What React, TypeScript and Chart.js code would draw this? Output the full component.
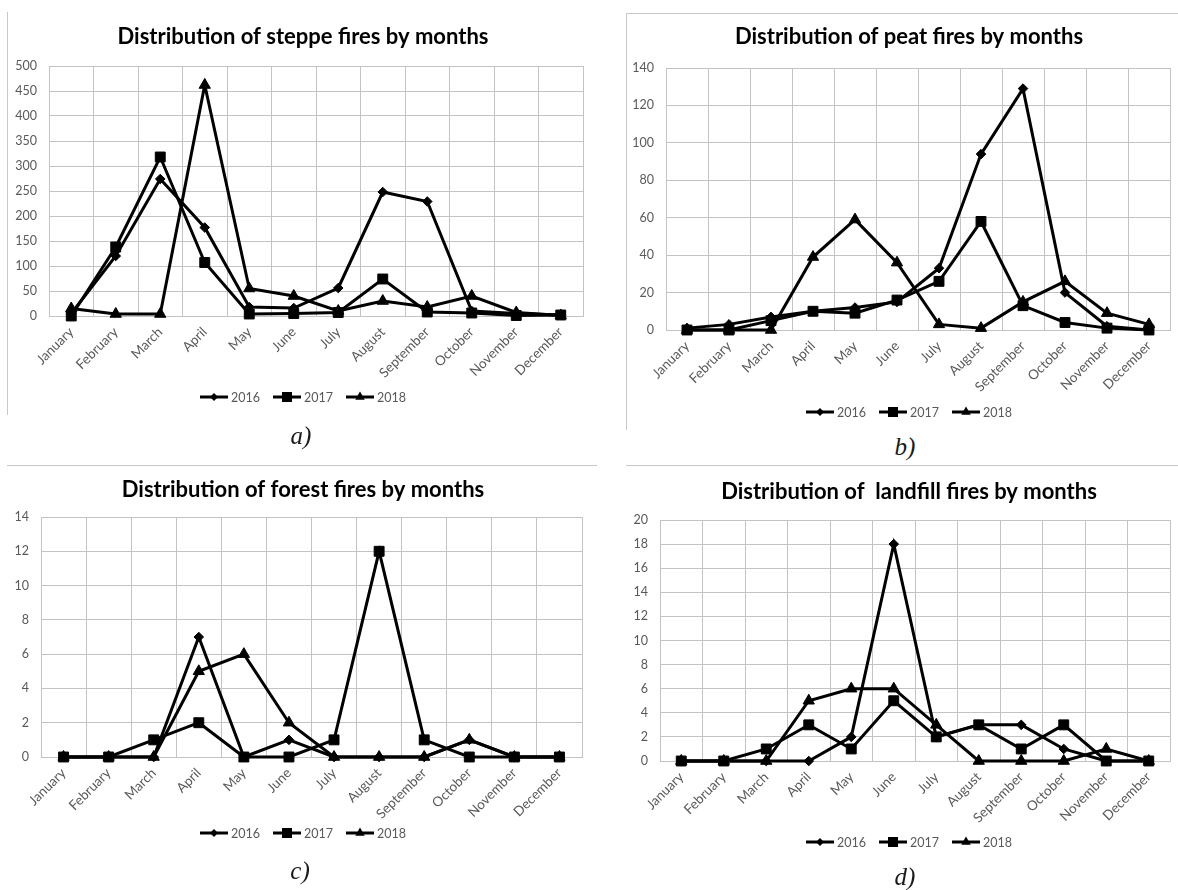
import React, { useEffect, useRef } from "react";
import { Chart, registerables } from "chart.js";

Chart.register(...registerables);

const MONTHS = ["January", "February", "March", "April", "May", "June", "July", "August", "September", "October", "November", "December"];
const YEARS = ["2016", "2017", "2018"];

const steppe2016 = [5, 120, 274, 177, 18, 16, 56, 248, 229, 10, 5, 2];
const steppe2017 = [0, 138, 318, 107, 4, 5, 7, 74, 8, 6, 1, 2];
const steppe2018 = [15, 4, 4, 462, 55, 40, 10, 30, 18, 40, 7, 1];

const peat2016 = [1, 3, 7, 10, 12, 15, 33, 94, 129, 20, 2, 0];
const peat2017 = [0, 0, 5, 10, 9, 16, 26, 58, 13, 4, 1, 0];
const peat2018 = [0, 0, 0, 39, 59, 36, 3, 1, 15, 26, 9, 3];

const forest2016 = [0, 0, 0, 7, 0, 1, 0, 0, 0, 1, 0, 0];
const forest2017 = [0, 0, 1, 2, 0, 0, 1, 12, 1, 0, 0, 0];
const forest2018 = [0, 0, 0, 5, 6, 2, 0, 0, 0, 1, 0, 0];

const landfill2016 = [0, 0, 0, 0, 2, 18, 2, 3, 3, 1, 0, 0];
const landfill2017 = [0, 0, 1, 3, 1, 5, 2, 3, 1, 3, 0, 0];
const landfill2018 = [0, 0, 0, 5, 6, 6, 3, 0, 0, 0, 1, 0];

const TITLES = [
  "Distribution of steppe fires by months",
  "Distribution of peat fires by months",
  "Distribution of forest fires by months",
  "Distribution of  landfill fires by months",
];
const PANEL_LABELS = ["a)", "b)", "c)", "d)"];

const POINT_STYLES = ["rectRot", "rect", "triangle"];
const POINT_RADII = [4.8, 7, 6.5];
const GRID = "#c3c3c3";
const TICK = "#595959";
const FONT = "Lato";

type Box = { left: number; top: number; width: number; height: number };
type Plot = { left: number; top: number; right: number; bottom: number };
type Panel = {
  title: string;
  label: string;
  series: number[][];
  yMax: number;
  step: number;
  canvas: Box;
  plot: Plot;
  titleY: number;
  legendY: number;
  cx: number;
  labelPos: { x: number; y: number };
};

const PANELS: Panel[] = [
  {
    title: TITLES[0], label: PANEL_LABELS[0], series: [steppe2016, steppe2017, steppe2018], yMax: 500, step: 50,
    canvas: { left: 0, top: 0, width: 600, height: 430 },
    plot: { left: 49, top: 66, right: 583, bottom: 316 },
    titleY: 37, legendY: 397, cx: 303, labelPos: { x: 301, y: 436 },
  },
  {
    title: TITLES[1], label: PANEL_LABELS[1], series: [peat2016, peat2017, peat2018], yMax: 140, step: 20,
    canvas: { left: 600, top: 0, width: 578, height: 430 },
    plot: { left: 666, top: 68, right: 1176, bottom: 330 },
    titleY: 37, legendY: 412, cx: 909, labelPos: { x: 905, y: 447 },
  },
  {
    title: TITLES[2], label: PANEL_LABELS[2], series: [forest2016, forest2017, forest2018], yMax: 14, step: 2,
    canvas: { left: 0, top: 466, width: 600, height: 424 },
    plot: { left: 41, top: 517, right: 582, bottom: 757 },
    titleY: 490, legendY: 833, cx: 303, labelPos: { x: 300, y: 871 },
  },
  {
    title: TITLES[3], label: PANEL_LABELS[3], series: [landfill2016, landfill2017, landfill2018], yMax: 20, step: 2,
    canvas: { left: 600, top: 466, width: 578, height: 424 },
    plot: { left: 660, top: 520, right: 1174, bottom: 761 },
    titleY: 492, legendY: 842, cx: 909, labelPos: { x: 905, y: 877 },
  },
];

function drawMarker(ctx: CanvasRenderingContext2D, style: string, x: number, y: number) {
  ctx.beginPath();
  if (style === "rectRot") {
    const r = 4;
    ctx.moveTo(x - r, y); ctx.lineTo(x, y - r); ctx.lineTo(x + r, y); ctx.lineTo(x, y + r);
  } else if (style === "rect") {
    const s = 5;
    ctx.rect(x - s, y - s, 2 * s, 2 * s);
  } else {
    const r = 5.5;
    ctx.moveTo(x, y - r);
    ctx.lineTo(x + r * 0.866, y + r * 0.5);
    ctx.lineTo(x - r * 0.866, y + r * 0.5);
  }
  ctx.closePath();
  ctx.fill();
}

const decoPlugin = {
  id: "excelDeco",
  afterDraw(chart: any, _args: any, opts: any) {
    const ctx: CanvasRenderingContext2D = chart.ctx;
    ctx.save();
    ctx.fillStyle = "#000";
    ctx.font = `bold 22px ${FONT}`;
    ctx.textAlign = "center";
    ctx.textBaseline = "middle";
    ctx.fillText(opts.title, opts.cx, opts.titleY);

    ctx.font = `12.5px ${FONT}`;
    const seg = 28, gapText = 3, gapItem = 13;
    const items = chart.data.datasets.map((ds: any) => ({
      label: ds.label,
      style: ds.pointStyle,
      w: seg + gapText + ctx.measureText(ds.label).width,
    }));
    const total = items.reduce((a: number, b: any) => a + b.w, 0) + gapItem * (items.length - 1);
    let x = opts.cx - total / 2;
    const y = opts.legendY;
    items.forEach((it: any) => {
      ctx.strokeStyle = "#000";
      ctx.fillStyle = "#000";
      ctx.lineWidth = 3;
      ctx.beginPath();
      ctx.moveTo(x, y);
      ctx.lineTo(x + seg, y);
      ctx.stroke();
      drawMarker(ctx, it.style, x + seg / 2, y);
      ctx.fillStyle = TICK;
      ctx.textAlign = "left";
      ctx.fillText(it.label, x + seg + gapText, y + 0.5);
      x += it.w + gapItem;
    });
    ctx.restore();
  },
};

function FireChart({ panel }: { panel: Panel }) {
  const ref = useRef<HTMLCanvasElement>(null);
  const c = panel.canvas;
  const p = panel.plot;
  useEffect(() => {
    const chart = new Chart(ref.current as HTMLCanvasElement, {
      type: "line",
      data: {
        labels: MONTHS,
        datasets: panel.series.map((data, i) => ({
          label: YEARS[i],
          data,
          borderColor: "#000",
          backgroundColor: "#000",
          borderWidth: 3,
          pointStyle: POINT_STYLES[i] as any,
          pointRadius: POINT_RADII[i],
          pointBackgroundColor: "#000",
          pointBorderColor: "#000",
          pointBorderWidth: 1,
          tension: 0,
          fill: false,
          clip: false as any,
        })),
      },
      options: {
        responsive: false,
        animation: false,
        layout: {
          padding: {
            left: 0,
            top: p.top - c.top,
            right: c.left + c.width - p.right,
            bottom: 0,
          },
        },
        scales: {
          x: {
            type: "category",
            offset: true,
            grid: { offset: true, color: GRID, drawTicks: false },
            border: { color: GRID },
            ticks: {
              autoSkip: false,
              minRotation: 45,
              maxRotation: 45,
              padding: 8,
              color: TICK,
              font: { family: FONT, size: 13.5 },
            },
            afterFit: (s: any) => {
              s.height = c.top + c.height - p.bottom;
            },
          },
          y: {
            min: 0,
            max: panel.yMax,
            ticks: { stepSize: panel.step, padding: 12, color: TICK, font: { family: FONT, size: 12.5 } },
            grid: { color: GRID, drawTicks: false },
            border: { color: GRID },
            afterFit: (s: any) => {
              s.width = p.left - c.left;
            },
          },
        },
        plugins: {
          legend: { display: false },
          title: { display: false },
          tooltip: { enabled: false },
          excelDeco: {
            title: panel.title,
            cx: panel.cx - c.left,
            titleY: panel.titleY - c.top,
            legendY: panel.legendY - c.top,
          },
        } as any,
      },
      plugins: [decoPlugin],
    });
    return () => chart.destroy();
  }, []);
  return (
    <canvas
      ref={ref}
      width={c.width}
      height={c.height}
      style={{ position: "absolute", left: c.left, top: c.top, width: c.width, height: c.height, display: "block" }}
    />
  );
}

const lineStyle = (left: number, top: number, width: number, height: number): React.CSSProperties => ({
  position: "absolute", left, top, width, height, background: "#c8c8c8",
});

export default function App() {
  return (
    <div style={{ position: "absolute", left: 0, top: 0, width: 1178, height: 890, background: "#fff", overflow: "hidden" }}>
      <div style={lineStyle(7, 12, 1, 403)} />
      <div style={lineStyle(626, 13, 1, 417)} />
      <div style={lineStyle(626, 13, 552, 1)} />
      <div style={lineStyle(7, 465, 590, 1)} />
      <div style={lineStyle(626, 465, 552, 1)} />
      {PANELS.map((panel, i) => (
        <FireChart key={i} panel={panel} />
      ))}
      {PANELS.map((panel, i) => (
        <div
          key={"l" + i}
          style={{
            position: "absolute",
            left: panel.labelPos.x - 30,
            top: panel.labelPos.y - 15,
            width: 60,
            height: 30,
            lineHeight: "30px",
            textAlign: "center",
            fontFamily: "'Liberation Serif', serif",
            fontStyle: "italic",
            fontSize: 25,
            color: "#1a1a1a",
          }}
        >
          {panel.label}
        </div>
      ))}
    </div>
  );
}
